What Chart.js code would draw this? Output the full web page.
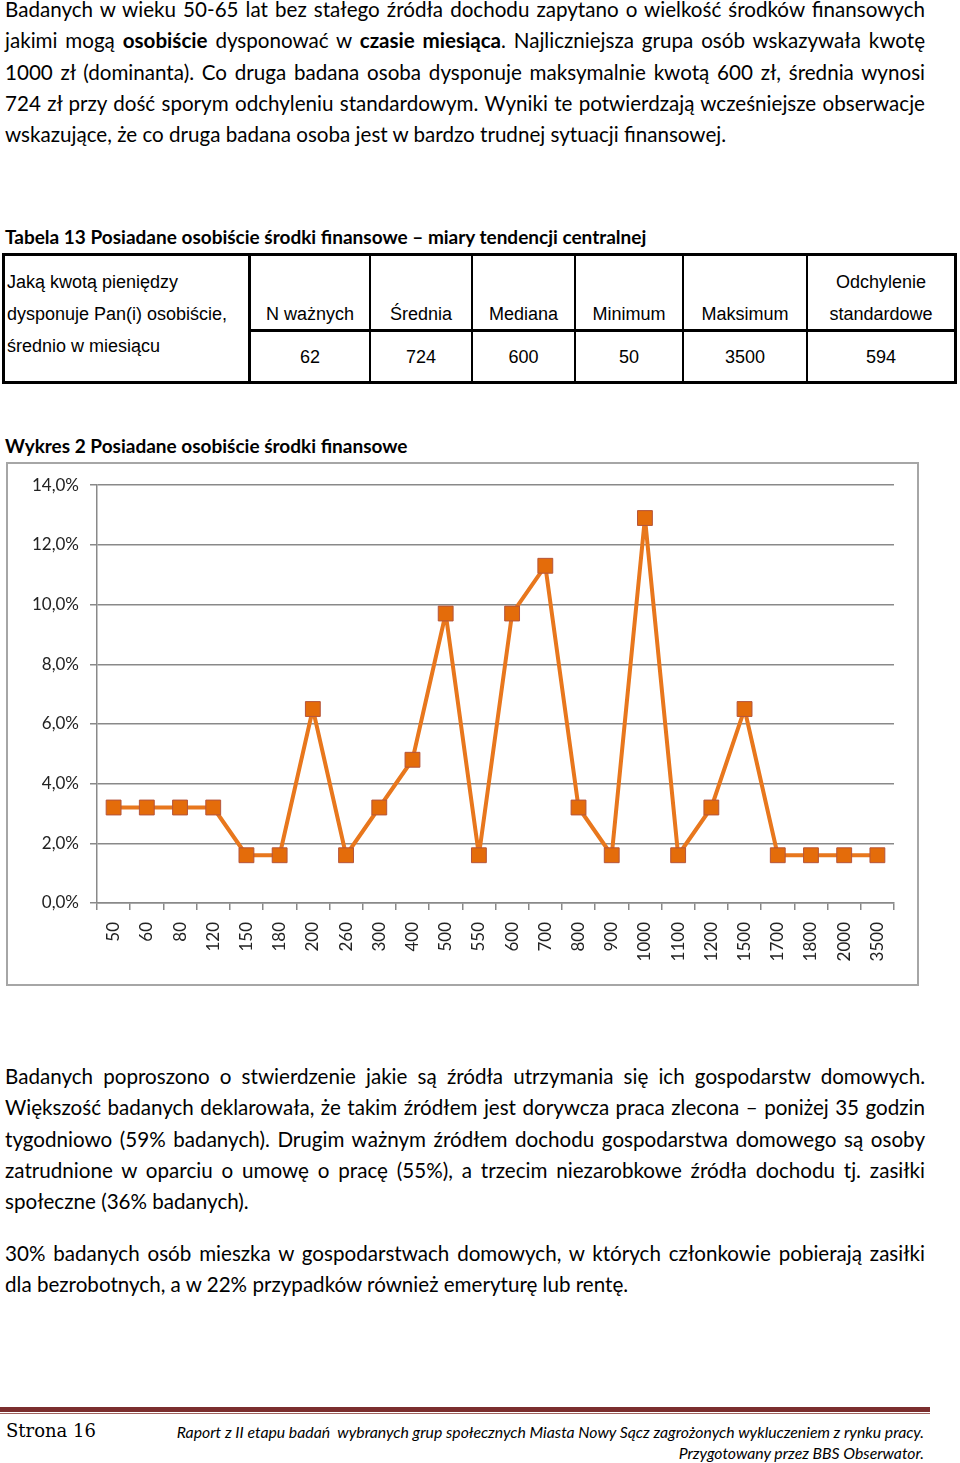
<!DOCTYPE html>
<html lang="pl">
<head>
<meta charset="utf-8">
<title>Wykres 2 Posiadane osobiście środki finansowe</title>
<script src="https://cdn.jsdelivr.net/npm/chart.js@4.4.1/dist/chart.umd.min.js"></script>
<style>
  html, body { margin: 0; padding: 0; background: #fff; }
  body { position: relative; width: 960px; height: 1463px; overflow: hidden; font-family: Lato, "Open Sans", sans-serif; color: #000; }
  .txt { position: absolute; left: 5px; width: 920px; font-size: 20.6px; line-height: 31.3px; }
  .txt div { text-align: justify; text-align-last: justify; }
  .txt div.last { text-align-last: left; }
  .cap { position: absolute; left: 5px; font-size: 19px; font-weight: bold; line-height: 22px; white-space: nowrap; }
  .tbl { position: absolute; left: 2px; top: 253px; width: 955px; height: 131px; border: 3px solid #000; box-sizing: border-box; }
  .vl { position: absolute; top: 253px; height: 131px; background: #000; }
  .hl { position: absolute; top: 329px; left: 250px; width: 707px; height: 3px; background: #000; }
  .cell { position: absolute; font-family: "Liberation Sans", Arial, sans-serif; font-size: 18px; line-height: 32px; text-align: center; white-space: nowrap; }
  #chartBox { position: absolute; left: 6px; top: 462px; width: 913px; height: 524px; border: 2px solid #a6a6a6; box-sizing: border-box; }
  .foot1 { position: absolute; left: 0; top: 1407px; width: 930px; height: 5px; background: #7b2e2e; }
  .foot2 { position: absolute; left: 0; top: 1413px; width: 930px; height: 1px; background: #a0625e; }
  .strona { position: absolute; left: 6px; top: 1418px; font-family: "DejaVu Serif", serif; font-size: 18px; line-height: 26px; }
  .raport { position: absolute; right: 36px; top: 1421px; font-style: italic; font-size: 15.8px; line-height: 21px; text-align: right; white-space: nowrap; }
</style>
</head>
<body>

<div class="txt" style="top:-6px;">
  <div>Badanych w wieku 50-65 lat bez stałego źródła dochodu zapytano o wielkość środków finansowych</div>
  <div>jakimi mogą <b>osobiście</b> dysponować w <b>czasie miesiąca</b>. Najliczniejsza grupa osób wskazywała kwotę</div>
  <div>1000 zł (dominanta). Co druga badana osoba dysponuje maksymalnie kwotą 600 zł, średnia wynosi</div>
  <div>724 zł przy dość sporym odchyleniu standardowym. Wyniki te potwierdzają wcześniejsze obserwacje</div>
  <div class="last">wskazujące, że co druga badana osoba jest w bardzo trudnej sytuacji finansowej.</div>
</div>

<div class="cap" style="top:226px;">Tabela 13 Posiadane osobiście środki finansowe – miary tendencji centralnej</div>

<div class="tbl"></div>
<div id="tableLines"></div>
<div class="hl"></div>
<div id="tableText"></div>

<div class="cap" style="top:435px;">Wykres 2 Posiadane osobiście środki finansowe</div>

<div id="chartBox"><canvas id="wykres"></canvas></div>

<div class="txt" style="top:1061px;">
  <div>Badanych poproszono o stwierdzenie jakie są źródła utrzymania się ich gospodarstw domowych.</div>
  <div>Większość badanych deklarowała, że takim źródłem jest dorywcza praca zlecona – poniżej 35 godzin</div>
  <div>tygodniowo (59% badanych). Drugim ważnym źródłem dochodu gospodarstwa domowego są osoby</div>
  <div>zatrudnione w oparciu o umowę o pracę (55%), a trzecim niezarobkowe źródła dochodu tj. zasiłki</div>
  <div class="last">społeczne (36% badanych).</div>
</div>

<div class="txt" style="top:1238px;">
  <div>30% badanych osób mieszka w gospodarstwach domowych, w których członkowie pobierają zasiłki</div>
  <div class="last">dla bezrobotnych, a w 22% przypadków również emeryturę lub rentę.</div>
</div>

<div class="foot1"></div>
<div class="foot2"></div>
<div class="strona">Strona 16</div>
<div class="raport">Raport z II etapu badań&nbsp; wybranych grup społecznych Miasta Nowy Sącz zagrożonych wykluczeniem z rynku pracy.<br>Przygotowany przez BBS Obserwator.</div>

<script>
// Table 13 contents
const tabelaPytanie = ['Jaką kwotą pieniędzy', 'dysponuje Pan(i) osobiście,', 'średnio w miesiącu'];
const tabelaNaglowki = [['N ważnych'], ['Średnia'], ['Mediana'], ['Minimum'], ['Maksimum'], ['Odchylenie', 'standardowe']];
const tabelaWartosci = ['62', '724', '600', '50', '3500', '594'];

// Chart 2: share of respondents per monthly amount (zł)
const kwoty = ['50', '60', '80', '120', '150', '180', '200', '260', '300', '400', '500', '550',
               '600', '700', '800', '900', '1000', '1100', '1200', '1500', '1700', '1800', '2000', '3500'];
const odsetek = [3.2, 3.2, 3.2, 3.2, 1.6, 1.6, 6.5, 1.6, 3.2, 4.8, 9.7, 1.6,
                 9.7, 11.3, 3.2, 1.6, 12.9, 1.6, 3.2, 6.5, 1.6, 1.6, 1.6, 1.6];
const osY = { min: 0, max: 14, krok: 2 };

// Build the table (column edges in px)
const kolumny = [[251, 369], [371, 471], [473, 574], [576, 682], [684, 806], [808, 954]];
const linie = document.getElementById('tableLines');
const teksty = document.getElementById('tableText');

linie.innerHTML += `<div class="vl" style="left:248px;width:3px;"></div>`;
kolumny.slice(0, -1).forEach(k => {
    linie.innerHTML += `<div class="vl" style="left:${k[1]}px;width:2px;"></div>`;
});

teksty.innerHTML += `<div class="cell" style="left:7px;top:266px;text-align:left;">${tabelaPytanie.join('<br>')}</div>`;
kolumny.forEach((k, i) => {
    const naglowek = tabelaNaglowki[i];
    const top = 298 - (naglowek.length - 1) * 32;
    teksty.innerHTML += `<div class="cell" style="left:${k[0]}px;width:${k[1] - k[0]}px;top:${top}px;">${naglowek.join('<br>')}</div>`;
    teksty.innerHTML += `<div class="cell" style="left:${k[0]}px;width:${k[1] - k[0]}px;top:341px;">${tabelaWartosci[i]}</div>`;
});

// Chart
const szary = '#898989';
const czcionka = { family: 'Lato', size: 17 };

const ctx = document.getElementById('wykres').getContext('2d');
new Chart(ctx, {
    type: 'line',
    data: {
        labels: kwoty,
        datasets: [{
            data: odsetek,
            borderColor: '#E8771D',
            borderWidth: 4,
            borderJoinStyle: 'round',
            tension: 0,
            pointStyle: 'rect',
            pointRadius: 10.5,
            pointHoverRadius: 10.5,
            pointBackgroundColor: '#E46C0A',
            pointBorderColor: '#B5553C',
            pointBorderWidth: 1
        }]
    },
    options: {
        responsive: true,
        maintainAspectRatio: false,
        animation: false,
        layout: { padding: { top: 21, right: 23, bottom: 0, left: 0 } },
        plugins: {
            legend: { display: false },
            tooltip: { enabled: false }
        },
        scales: {
            x: {
                offset: true,
                grid: { display: true, drawOnChartArea: false, drawTicks: true, tickLength: 7, offset: true, color: szary, lineWidth: 1.5 },
                border: { display: true, color: szary, width: 1.5 },
                ticks: { autoSkip: false, minRotation: 90, maxRotation: 90, padding: 12, color: '#222', font: czcionka },
                afterFit: scale => { scale.height = 81; }
            },
            y: {
                min: osY.min,
                max: osY.max,
                grid: { color: szary, lineWidth: 1.5, tickLength: 7 },
                border: { display: true, color: szary, width: 1.5 },
                ticks: {
                    stepSize: osY.krok,
                    padding: 11,
                    color: '#222',
                    font: czcionka,
                    callback: v => v.toFixed(1).replace('.', ',') + '%'
                },
                afterFit: scale => { scale.width = 89; }
            }
        }
    }
});
</script>
</body>
</html>
